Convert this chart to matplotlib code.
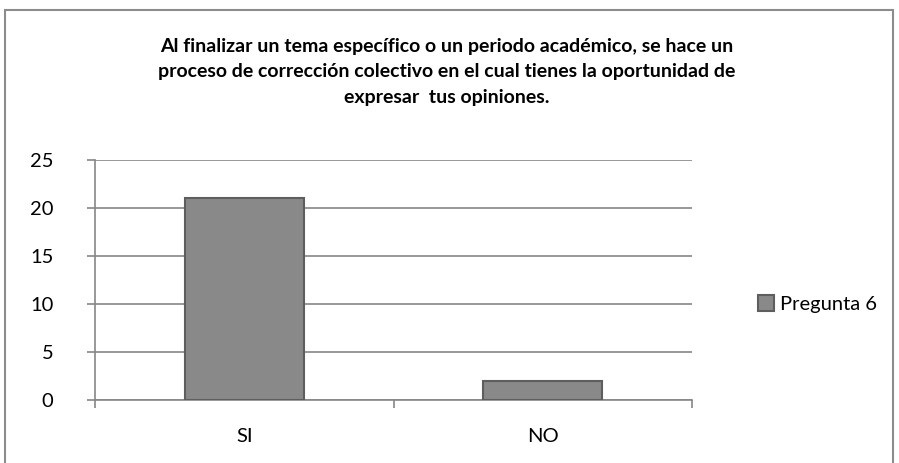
import matplotlib.pyplot as plt
from matplotlib.patches import Rectangle
import numpy as np

categories = ['SI', 'NO']
values = [21, 2]
series_name = 'Pregunta 6'
title = ('Al finalizar un tema específico o un periodo académico, se hace un\n'
         'proceso de corrección colectivo en el cual tienes la oportunidad de\n'
         'expresar  tus opiniones.')
yticks = [0, 5, 10, 15, 20, 25]

plt.rcParams['font.family'] = ['Lato', 'DejaVu Sans']

fig = plt.figure(figsize=(8.99, 4.63), dpi=100)

# outer chart border
fig.patches.append(Rectangle((5 / 899, -0.01), 888 / 899, 1 - 10 / 463 + 0.01,
                             transform=fig.transFigure, fill=False,
                             edgecolor='#8c8c8c', linewidth=1.5))

ax = fig.add_axes([95 / 899, 63 / 463, 597 / 899, 240 / 463])
x = np.arange(len(categories))
ax.bar(x, values, width=0.4, color='#898989', edgecolor='#5e5e5e',
       linewidth=1.5, zorder=3, label=series_name)

ax.set_xlim(-0.5, len(categories) - 0.5)
ax.set_ylim(0, 25)
ax.set_yticks(yticks)
ax.set_xticks(x)
ax.set_xticklabels(categories)
ax.set_xticks(np.arange(-0.5, len(categories)), minor=True)
ax.tick_params(axis='x', which='major', length=0, pad=20, labelsize=14.5)
ax.tick_params(axis='x', which='minor', length=6, color='#868686', width=1.2)
ax.tick_params(axis='y', length=6, color='#868686', width=1.2, labelsize=14.5, pad=24)
ax.yaxis.grid(True, color='#868686', linewidth=1.2, zorder=0)
ax.set_axisbelow(True)
for side in ['top', 'right']:
    ax.spines[side].set_visible(False)
ax.spines['left'].set_color('#868686')
ax.spines['bottom'].set_color('#868686')
ax.spines['left'].set_linewidth(1.2)
ax.spines['bottom'].set_linewidth(1.2)

fig.text(0.497, 0.918, title, ha='center', va='top', fontsize=14,
         fontweight='bold', linespacing=1.6)

ax.legend(loc='center left', bbox_to_anchor=(1.08, 0.4), frameon=False,
          fontsize=14.5, handlelength=0.8, handleheight=0.8, handletextpad=0.3)

fig.savefig('out.png', dpi=100)
